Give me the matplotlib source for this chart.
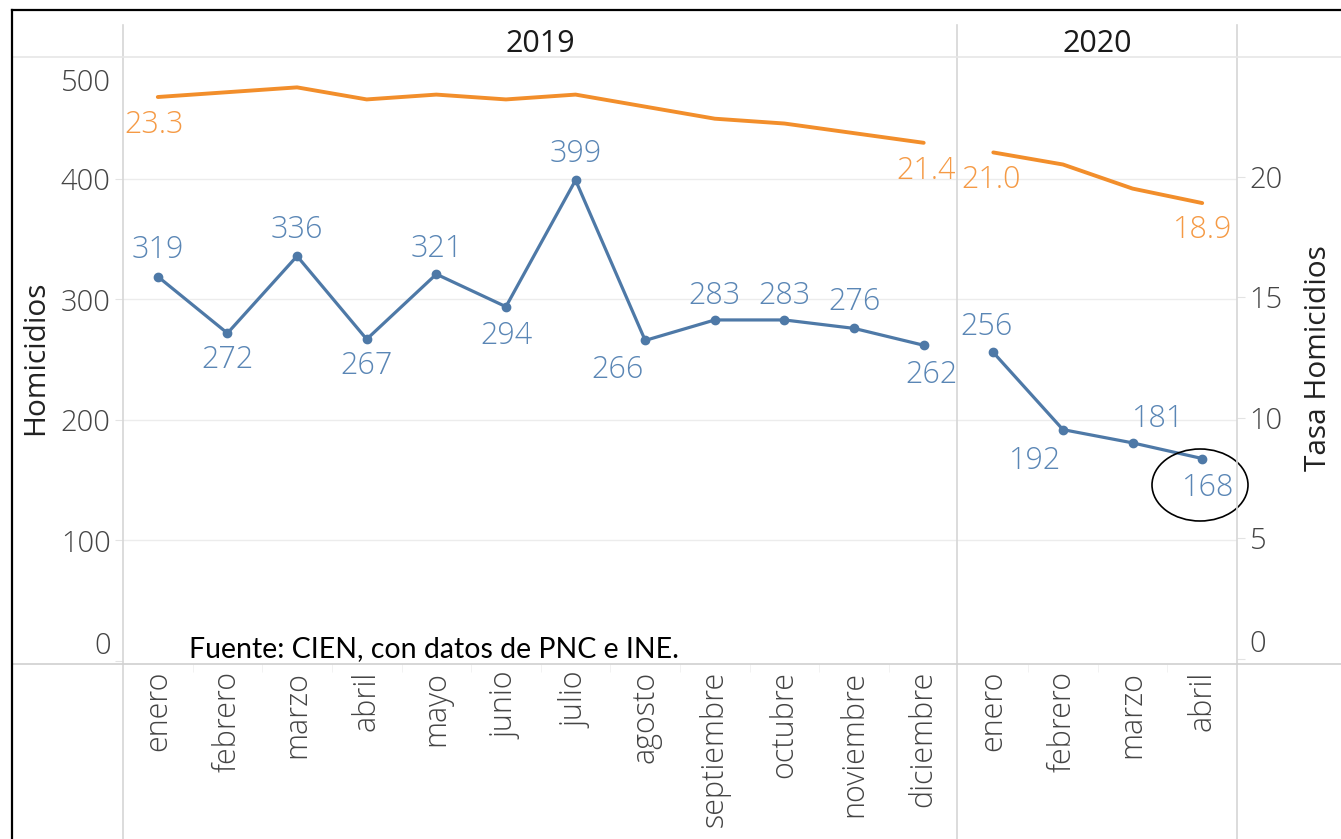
import matplotlib.pyplot as plt
from matplotlib.lines import Line2D
from matplotlib.patches import Ellipse
from matplotlib.transforms import blended_transform_factory, ScaledTranslation

plt.rcParams['font.family'] = ['Open Sans', 'DejaVu Sans']
plt.rcParams['font.weight'] = 'light'

# datos
meses_2019 = ["enero", "febrero", "marzo", "abril", "mayo", "junio", "julio",
              "agosto", "septiembre", "octubre", "noviembre", "diciembre"]
meses_2020 = ["enero", "febrero", "marzo", "abril"]
homicidios_2019 = [319, 272, 336, 267, 321, 294, 399, 266, 283, 283, 276, 262]
homicidios_2020 = [256, 192, 181, 168]
tasa_2019 = [23.3, 23.5, 23.7, 23.2, 23.4, 23.2, 23.4, 22.9, 22.4, 22.2, 21.8, 21.4]
tasa_2020 = [21.0, 20.5, 19.5, 18.9]
anios = ["2019", "2020"]
fuente = "Fuente: CIEN, con datos de PNC e INE."

# desplazamiento de etiquetas (pixeles, y hacia abajo)
off_hom = [(0, -27), (0, 27), (0, -26), (0, 27), (0, -25), (0, 29), (0, -26),
           (-28, 30), (0, -24), (0, -24), (0, -26), (8, 30),
           (-7, -25), (-28, 31), (26, -24), (6, 29)]
tasa_etiq = {0: (-4, 28), 11: (2, 28), 12: (-2, 28), 15: (0, 27)}

AZUL = "#4e79a7"
AZUL_T = "#5a86b5"
NARANJA = "#f28e2b"
NARANJA_T = "#f59a45"
GRIS = "#d6d6d6"
TXT = "#444444"

W, H = 1341, 839
fig = plt.figure(figsize=(W / 100, H / 100), dpi=100)
ax = fig.add_axes([123 / W, 1 - 664 / H, (1237 - 123) / W, (664 - 57) / H])
ax2 = ax.twinx()

n1, n2 = len(meses_2019), len(meses_2020)
x1 = list(range(n1))
x2 = list(range(n1, n1 + n2))

ylo, yhi = -2.5, 501.2
ax.set_ylim(ylo, yhi)
ax2.set_ylim(ylo / 20 - 0.1, yhi / 20 - 0.1)
ax.set_xlim(-0.5, n1 + n2 - 0.5)

for a in (ax, ax2):
    for s in a.spines.values():
        s.set_visible(False)

# rejilla
for v in [100, 200, 300, 400]:
    ax.axhline(v, color="#ececec", lw=1, zorder=0)

ax.plot(x1, homicidios_2019, color=AZUL, lw=2.3, marker="o", ms=6, zorder=3)
ax.plot(x2, homicidios_2020, color=AZUL, lw=2.3, marker="o", ms=6, zorder=3)
ax2.plot(x1, tasa_2019, color=NARANJA, lw=2.8, solid_capstyle="round")
ax2.plot(x2, tasa_2020, color=NARANJA, lw=2.8, solid_capstyle="round")

xs = x1 + x2
hom = homicidios_2019 + homicidios_2020
tas = tasa_2019 + tasa_2020
for i, (x, v) in enumerate(zip(xs, hom)):
    dx, dy = off_hom[i]
    ax.annotate(str(v), (x, v), xytext=(dx * 0.72, -dy * 0.72),
                textcoords="offset points", ha="center", va="center",
                fontsize=22, color=AZUL_T, zorder=4)
for i, (dx, dy) in tasa_etiq.items():
    ax2.annotate(f"{tas[i]:.1f}", (xs[i], tas[i]), xytext=(dx * 0.72, -dy * 0.72),
                 textcoords="offset points", ha="center", va="center",
                 fontsize=22, color=NARANJA_T)

# ejes
ax.set_yticks([0, 100, 200, 300, 400, 500])
ax.tick_params(axis="y", length=6, color="#e3e3e3", pad=3, labelsize=21,
               labelcolor=TXT)
labs = ax.get_yticklabels()
labs[0].set_verticalalignment("bottom")
labs[-1].set_transform(labs[-1].get_transform()
                       + ScaledTranslation(0, -0.21, fig.dpi_scale_trans))
ax.get_yticklines()[-2].set_visible(False)
ax2.set_yticks([0, 5, 10, 15, 20])
ax2.tick_params(axis="y", length=6, color="#e3e3e3", pad=3, labelsize=21,
                labelcolor=TXT)
ax2.get_yticklabels()[0].set_verticalalignment("bottom")

ax.set_xticks(xs)
ax.set_xticklabels(meses_2019 + meses_2020, rotation=90, va="top", ha="center")
ax.tick_params(axis="x", length=0, pad=5, labelsize=22, labelcolor=TXT)
ax.set_xticks([i + 0.5 for i in range(n1 + n2 - 1) if i != n1 - 1], minor=True)
ax.tick_params(axis="x", which="minor", length=6, color="#f0f0f0")

fig.text(36 / W, 1 - 358 / H, "Homicidios", rotation=90, ha="center",
         va="center", fontsize=21.5, color="#222222", weight="normal")
fig.text(1318 / W, 1 - 358 / H, "Tasa Homicidios", rotation=90, ha="center",
         va="center", fontsize=21.5, color="#222222", weight="normal")

# encabezado de años
tr = blended_transform_factory(ax.transData, fig.transFigure)
ax.text((n1 - 1) / 2, 1 - 44 / H, anios[0], transform=tr, ha="center",
        va="center", fontsize=22, color="#1a1a1a", weight="normal")
ax.text(n1 + (n2 - 1) / 2, 1 - 44 / H, anios[1], transform=tr, ha="center",
        va="center", fontsize=22, color="#1a1a1a", weight="normal")

# líneas de la tabla
def linea(xa, ya, xb, yb, color=GRIS, lw=1.2):
    fig.add_artist(Line2D([xa / W, xb / W], [1 - ya / H, 1 - yb / H],
                          color=color, lw=lw, transform=fig.transFigure))

for xv in (123, 957, 1237):
    linea(xv, 25, xv, H)
linea(12, 57, W, 57, color="#e6e6e6")
linea(12, 664, W, 664, color="#d0d0d0")
linea(12, 10, W, 10, color="black", lw=1.6)
linea(12, 10, 12, H, color="black", lw=1.6)

fig.text(189 / W, 1 - 657 / H, fuente, ha="left", va="baseline",
         fontsize=20.5, color="black", weight="normal",
         family=["Lato", "DejaVu Sans"])

fig.add_artist(Ellipse((1200 / W, 1 - 485 / H), 96 / W, 72 / H,
                       transform=fig.transFigure, fill=False,
                       edgecolor="black", lw=1.2))

fig.savefig("out.png", dpi=100)
